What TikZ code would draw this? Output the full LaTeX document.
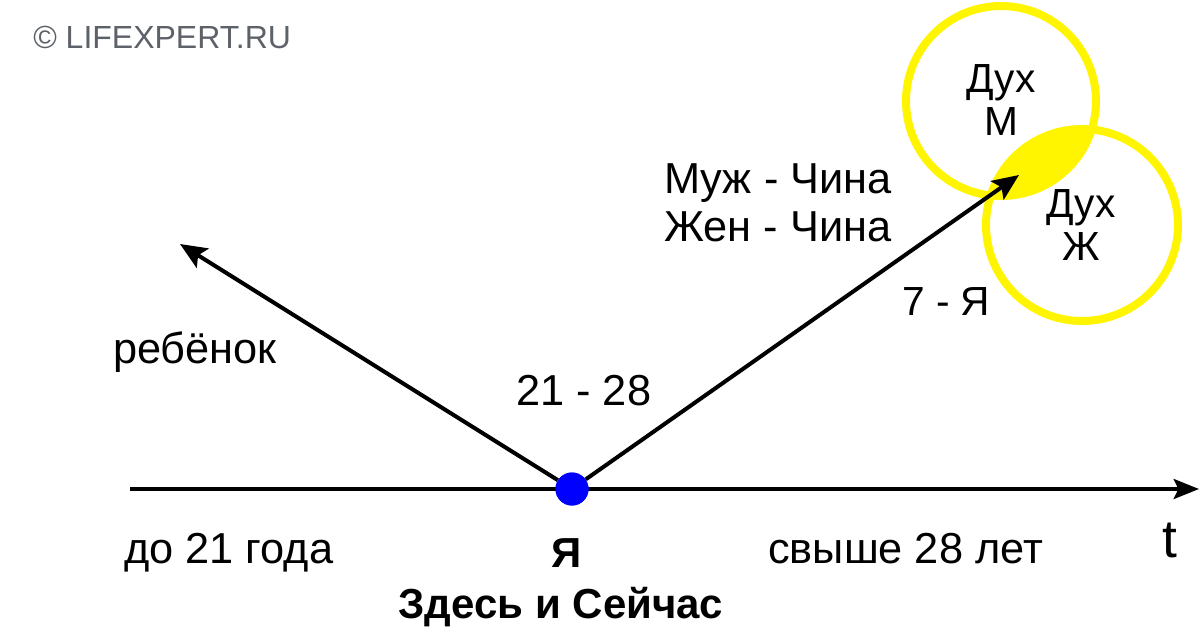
\documentclass[tikz,border=0pt]{standalone}
\usepackage{fontspec}
\setmainfont{Liberation Sans}
\usetikzlibrary{arrows.meta}
\definecolor{ylw}{RGB}{255,245,0}
\definecolor{wm}{RGB}{92,98,104}
\definecolor{dotblue}{RGB}{0,0,255}
\begin{document}
\begin{tikzpicture}[x=0.75pt,y=-0.75pt,
  txt/.style={inner sep=0pt, font=\fontsize{32.5}{38}\selectfont},
  sm/.style={inner sep=0pt, font=\fontsize{30.5}{36}\selectfont},
  lw/.style={txt, anchor=base west},
  lc/.style={sm, anchor=base},
  bold/.style={inner sep=0pt, anchor=base, font=\fontsize{31.5}{36}\selectfont\bfseries},
  arr/.style={line width=3pt, -{Stealth[length=20pt,width=17pt,inset=4pt]}},
  axis/.style={line width=2.5pt, -{Stealth[length=19pt,width=15pt,inset=3.5pt]}},
  ring/.style={draw=ylw, line width=6pt}]
\useasboundingbox (0,0) rectangle (1200,643);
% watermark
\node[inner sep=0pt, anchor=base west, text=wm, font=\fontsize{24}{28}\selectfont] (wmk) at (33,48) {© LIFEXPERT.RU};
% circles
\coordinate (cM) at (1001,101);
\coordinate (cJ) at (1082,225);
\begin{scope}
  \clip (cM) circle[radius=95];
  \fill[ylw] (cJ) circle[radius=96];
\end{scope}
\draw[ring] (cM) circle[radius=95];
\draw[ring] (cJ) circle[radius=96];
% axis
\coordinate (axL) at (130,489);
\coordinate (axR) at (1199,489);
\draw[axis] (axL) -- (axR);
% dot and arrows
\node[circle, fill=dotblue, minimum size=24.75pt, inner sep=0pt] (dot) at (572,489) {};
\coordinate (tipL) at (180,244);
\coordinate (tipR) at (1019,175);
\draw[arr] (dot) -- (tipL);
\draw[arr] (dot) -- (tipR);
\node[circle, fill=dotblue, minimum size=24.75pt, inner sep=0pt] at (dot) {};
% texts
\node[lc] (dux1) at (1001,92) {Дух};
\node[lc] (m1) at (1001,135) {М};
\node[lc] (dux2) at (1081,217) {Дух};
\node[lc] (zh) at (1081,260) {Ж};
\node[lw] (muzh) at (664,193) {Муж - Чина};
\node[lw] (zhen) at (664,241) {Жен - Чина};
\node[sm, anchor=base west] (seven) at (902,315) {7 - Я};
\node[lw] (reb) at (113,363) {ребёнок};
\node[lw] (age) at (516,405) {21 - 28};
\node[lw] (do21) at (124,563) {до 21 года};
\node[lw] (sv28) at (768,563) {свыше 28 лет};
\node[inner sep=0pt, anchor=base west, font=\fontsize{40}{44}\selectfont] (t) at (1162,557) {t};
\node[bold] (ya) at (567,567) {Я};
\node[bold] (zdes) at (561,618) {Здесь и Сейчас};
\end{tikzpicture}
\end{document}
